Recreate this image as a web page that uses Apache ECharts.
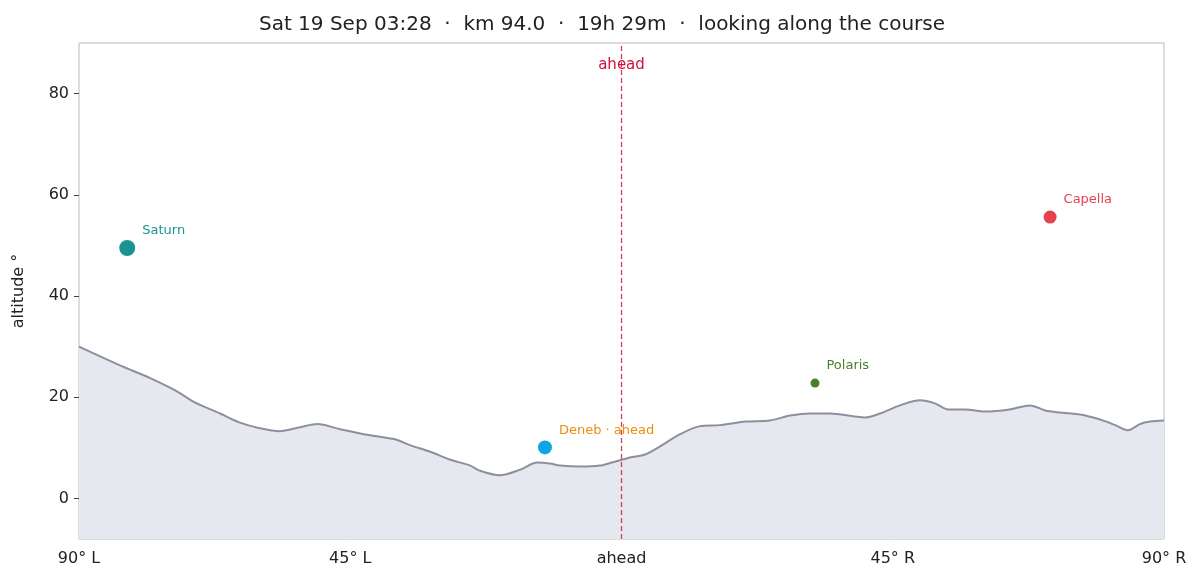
<!DOCTYPE html>
<html><head><meta charset="utf-8">
<script src="https://cdn.jsdelivr.net/npm/echarts@6/dist/echarts.min.js"></script>
<style>html,body{margin:0;padding:0;background:#fff}#c{width:1204px;height:586px}</style>
</head><body><div id="c"></div>
<script>
// terrain profile: [bearing deg, altitude deg]
const terrain = [[-90,30],[-83.2,26.3],[-78.2,23.8],[-74.1,21.4],[-70.8,19],[-66.6,16.8],[-63.3,15],[-60,13.9],
  [-56.7,13.3],[-53.3,14.1],[-50.4,14.7],[-46.7,13.7],[-41.7,12.5],[-37.6,11.7],[-35,10.5],[-31.8,9.3],[-28.5,7.7],
  [-25.1,6.5],[-23.5,5.5],[-20.2,4.6],[-16.8,5.7],[-14,7.1],[-11.9,6.9],[-10.2,6.5],[-6.9,6.3],[-3.6,6.5],[-1.6,7.1],
  [1.4,8.1],[3.9,8.7],[6.4,10.3],[9.7,12.7],[13,14.3],[16.3,14.5],[20.5,15.2],[24.6,15.4],[28,16.4],[31.3,16.8],
  [34.6,16.8],[38.7,16.2],[40.4,16],[42.9,16.8],[46.2,18.4],[49.5,19.4],[52,18.8],[54.2,17.6],[57,17.6],[60.3,17.2],
  [64.4,17.6],[67.8,18.4],[70.3,17.4],[72.7,17],[76.1,16.6],[79.4,15.6],[81.9,14.5],[84,13.5],[86,14.7],[87.7,15.2],[90,15.4]];
const bodies = [
  {label:'Saturn', x:-82, y:49.5, size:16, color:'#1a9393', labelColor:'#1a9393'},
  {label:'Deneb · ahead', x:-12.7, y:10.1, size:14, color:'#0ea5e4', labelColor:'#e8900c'},
  {label:'Polaris', x:32.1, y:22.8, size:9, color:'#4a7f2a', labelColor:'#4a7f2a'},
  {label:'Capella', x:71.1, y:55.6, size:13, color:'#e5424d', labelColor:'#e5424d'}
];
const yTicks = [0, 20, 40, 60, 80];
const xTicks = {'-90':'90° L','-45':'45° L','0':'ahead','45':'45° R','90':'90° R'};
const title = 'Sat 19 Sep 03:28  ·  km 94.0  ·  19h 29m  ·  looking along the course';

const chart = echarts.init(document.getElementById('c'));
chart.setOption({
  animation:false,
  title:{text:title,left:'center',top:10,textStyle:{fontFamily:'DejaVu Sans',fontWeight:'normal',fontSize:20,color:'#222'}},
  grid:{left:79,right:40,top:43,bottom:47,show:true,borderColor:'#b8b8cc',borderWidth:1},
  xAxis:{type:'value',min:-90,max:90,interval:45,splitLine:{show:false},
    axisLine:{show:false},axisTick:{show:false},
    axisLabel:{formatter:v=>xTicks[v]||'',fontFamily:'DejaVu Sans',fontSize:16,color:'#222',margin:12}},
  yAxis:{type:'value',min:-8,max:90,splitLine:{show:false},
    axisLine:{show:false,onZero:false},
    axisTick:{show:true,length:5,customValues:yTicks,lineStyle:{color:'#444'}},
    axisLabel:{customValues:yTicks,fontFamily:'DejaVu Sans',fontSize:16,color:'#222',margin:10},
    name:'altitude °',nameLocation:'middle',nameGap:52,nameTextStyle:{fontFamily:'DejaVu Sans',fontSize:16,color:'#222'}},
  series:[
    {type:'line',data:terrain,symbol:'none',smooth:0.3,lineStyle:{color:'#8e8e9e',width:2},
      areaStyle:{color:'#e6e8f0',origin:'start',opacity:1},
      markLine:{symbol:'none',silent:true,data:[{xAxis:0}],
        lineStyle:{color:'#d93a57',type:[5,3],width:1.3},
        label:{show:true,position:'end',formatter:'ahead',color:'#d0103a',fontSize:15,fontFamily:'DejaVu Sans',distance:-30}}},
    {type:'scatter',data:bodies.map(b=>({value:[b.x,b.y],symbolSize:b.size,itemStyle:{color:b.color,opacity:1},
      label:{show:true,formatter:b.label,position:'right',offset:[2,-17],color:b.labelColor,fontSize:13,fontFamily:'DejaVu Sans'}}))}
  ]
});
</script></body></html>
